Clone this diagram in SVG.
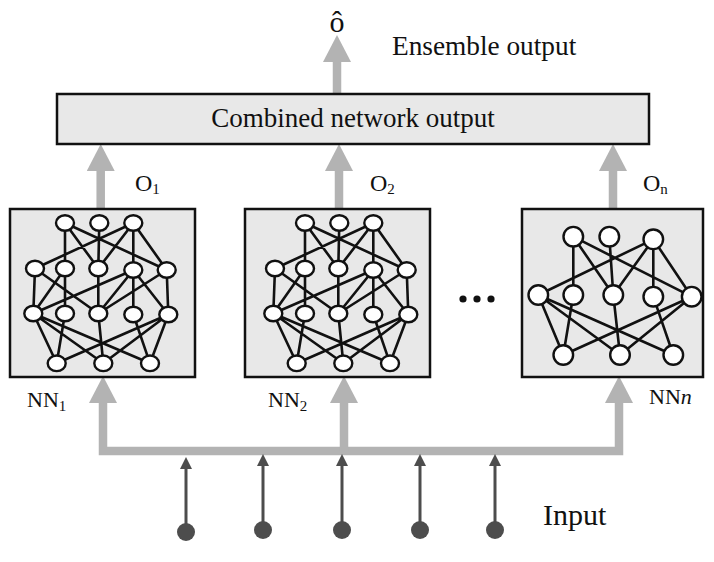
<svg xmlns="http://www.w3.org/2000/svg" xmlns:xlink="http://www.w3.org/1999/xlink" width="714" height="562" viewBox="0 0 714 562">
<style>
.t{font-family:"Liberation Serif","Times New Roman",serif;fill:#111}
.box{fill:#e8e8e8;stroke:#111;stroke-width:2.5}
.e{stroke:#111;stroke-width:2.6;fill:none}
.ns{fill:#fff;stroke:#111;stroke-width:2.4}
.big{stroke:#b3b3b3;stroke-width:8.5;fill:none}
.bighead{fill:#b3b3b3}
.in{stroke:#4d4d4d;stroke-width:3;fill:none}
.dot{fill:#4d4d4d}
</style>
<defs>
<marker id="ah" markerUnits="userSpaceOnUse" viewBox="0 0 27 28" markerWidth="27" markerHeight="28" refX="0" refY="14" orient="auto">
<path d="M0,0 L27,14 L0,28 Z" class="bighead"/>
</marker>
<marker id="sh" markerUnits="userSpaceOnUse" viewBox="0 0 12 12" markerWidth="12" markerHeight="12" refX="0" refY="6" orient="auto">
<path d="M0,0 L12,6 L0,12 Z" fill="#4d4d4d"/>
</marker>
<g id="netA">
<path class="e" d="M65,223 L65,268.5 M65,223 L98.3,268.5 M65,223 L166.7,270 M99.3,223 L98.3,268.5 M133.3,223 L35,268.5 M133.3,223 L98.3,268.5 M133.3,223 L133.3,270 M133.3,223 L166.7,270
M35,268.5 L33.3,313.5 M35,268.5 L98.3,313.5 M65,268.5 L33.3,313.5 M65,268.5 L65,313.5 M98.3,268.5 L98.3,313.5 M133.3,270 L33.3,313.5 M133.3,270 L98.3,313.5 M133.3,270 L133.3,314.5 M133.3,270 L168.3,314.5 M166.7,270 L98.3,313.5 M166.7,270 L168.3,314.5
M33.3,313.5 L56.7,363.3 M33.3,313.5 L103.3,363.3 M33.3,313.5 L150,363.3 M65,313.5 L56.7,363.3 M98.3,313.5 L103.3,363.3 M133.3,314.5 L150,363.3 M168.3,314.5 L56.7,363.3 M168.3,314.5 L103.3,363.3 M168.3,314.5 L150,363.3"/>
<g class="ns">
<ellipse cx="65" cy="223" rx="9" ry="7.8"/><ellipse cx="99.3" cy="223" rx="9" ry="7.8"/><ellipse cx="133.3" cy="223" rx="9" ry="7.8"/>
<ellipse cx="35" cy="268.5" rx="9" ry="7.8"/><ellipse cx="65" cy="268.5" rx="9" ry="7.8"/><ellipse cx="98.3" cy="268.5" rx="9" ry="7.8"/><ellipse cx="133.3" cy="270" rx="9" ry="7.8"/><ellipse cx="166.7" cy="270" rx="9" ry="7.8"/>
<ellipse cx="33.3" cy="313.5" rx="9" ry="7.8"/><ellipse cx="65" cy="313.5" rx="9" ry="7.8"/><ellipse cx="98.3" cy="313.5" rx="9" ry="7.8"/><ellipse cx="133.3" cy="314.5" rx="9" ry="7.8"/><ellipse cx="168.3" cy="314.5" rx="9" ry="7.8"/>
<ellipse cx="56.7" cy="363.3" rx="9" ry="7.8"/><ellipse cx="103.3" cy="363.3" rx="9" ry="7.8"/><ellipse cx="150" cy="363.3" rx="9" ry="7.8"/>
</g>
</g>
</defs>

<g id="connectors">
<path class="big" d="M337,94 V62" marker-end="url(#ah)"/>
<path class="big" d="M100.7,209 V171" marker-end="url(#ah)"/>
<path class="big" d="M339,209 V171" marker-end="url(#ah)"/>
<path class="big" d="M613,209 V171" marker-end="url(#ah)"/>
<path class="big" d="M103,402 V451 H619 V402" stroke-linejoin="miter"/>
<path class="big" d="M344,451 V402"/>
<polygon class="bighead" points="89,403 103,376 117,403"/>
<polygon class="bighead" points="330,403 344,376 358,403"/>
<polygon class="bighead" points="605,403 619,376 633,403"/>
<path class="in" d="M186,531 V469" marker-end="url(#sh)"/>
<path class="in" d="M263,530 V466" marker-end="url(#sh)"/>
<path class="in" d="M342,530 V466" marker-end="url(#sh)"/>
<path class="in" d="M420,530 V466" marker-end="url(#sh)"/>
<path class="in" d="M495,530 V466" marker-end="url(#sh)"/>
</g>

<g id="inputs">
<circle class="dot" cx="186" cy="532" r="9"/>
<circle class="dot" cx="263" cy="530" r="9"/>
<circle class="dot" cx="342" cy="530" r="9"/>
<circle class="dot" cx="420" cy="530" r="9"/>
<circle class="dot" cx="495" cy="530" r="9"/>
<text class="t" x="543" y="525" font-size="30">Input</text>
</g>

<g id="combined">
<rect class="box" x="57" y="94" width="592" height="50"/>
<text class="t" x="353" y="127" font-size="27" text-anchor="middle">Combined network output</text>
</g>

<g id="ensemble">
<text class="t" x="337" y="32" font-size="30" text-anchor="middle">ô</text>
<text class="t" x="392" y="55" font-size="27.3">Ensemble output</text>
</g>

<g id="nn1">
<rect class="box" x="10" y="209" width="185" height="168"/>
<use xlink:href="#netA" href="#netA"/>
<text class="t" x="27" y="407" font-size="22">NN<tspan font-size="15" dy="4">1</tspan></text>
<text class="t" x="135" y="191" font-size="24">O<tspan font-size="15" dy="3">1</tspan></text>
</g>

<g id="nn2">
<rect class="box" x="245" y="209" width="185" height="168"/>
<use xlink:href="#netA" href="#netA" transform="translate(240,0)"/>
<text class="t" x="268" y="407" font-size="22">NN<tspan font-size="15" dy="4">2</tspan></text>
<text class="t" x="370" y="191" font-size="24">O<tspan font-size="15" dy="3">2</tspan></text>
</g>

<g id="ellipsis">
<circle cx="463" cy="299" r="3.6" fill="#111"/>
<circle cx="477" cy="299" r="3.6" fill="#111"/>
<circle cx="491" cy="299" r="3.6" fill="#111"/>
</g>

<g id="nnn">
<rect class="box" x="522" y="209" width="181" height="168"/>
<path class="e" d="M573.3,236.7 L573.3,295 M573.3,236.7 L613.3,295 M573.3,236.7 L691.7,296.7 M609.3,236.7 L613.3,295 M653.3,239.3 L538.3,295 M653.3,239.3 L613.3,295 M653.3,239.3 L653.3,296.7 M653.3,239.3 L691.7,296.7
M538.3,295 L563.3,355 M538.3,295 L620,355 M538.3,295 L673.3,355 M573.3,295 L563.3,355 M613.3,295 L620,355 M653.3,296.7 L673.3,355 M691.7,296.7 L563.3,355 M691.7,296.7 L620,355"/>
<g class="ns">
<circle cx="573.3" cy="236.7" r="9.8"/><circle cx="609.3" cy="236.7" r="9.8"/><circle cx="653.3" cy="239.3" r="9.8"/>
<circle cx="538.3" cy="295" r="9.8"/><circle cx="573.3" cy="295" r="9.8"/><circle cx="613.3" cy="295" r="9.8"/><circle cx="653.3" cy="296.7" r="9.8"/><circle cx="691.7" cy="296.7" r="9.8"/>
<circle cx="563.3" cy="355" r="9.8"/><circle cx="620" cy="355" r="9.8"/><circle cx="673.3" cy="355" r="9.8"/>
</g>
<text class="t" x="649" y="404" font-size="22">NN<tspan font-style="italic">n</tspan></text>
<text class="t" x="643" y="191" font-size="24">O<tspan font-size="15" dy="3">n</tspan></text>
</g>
</svg>
